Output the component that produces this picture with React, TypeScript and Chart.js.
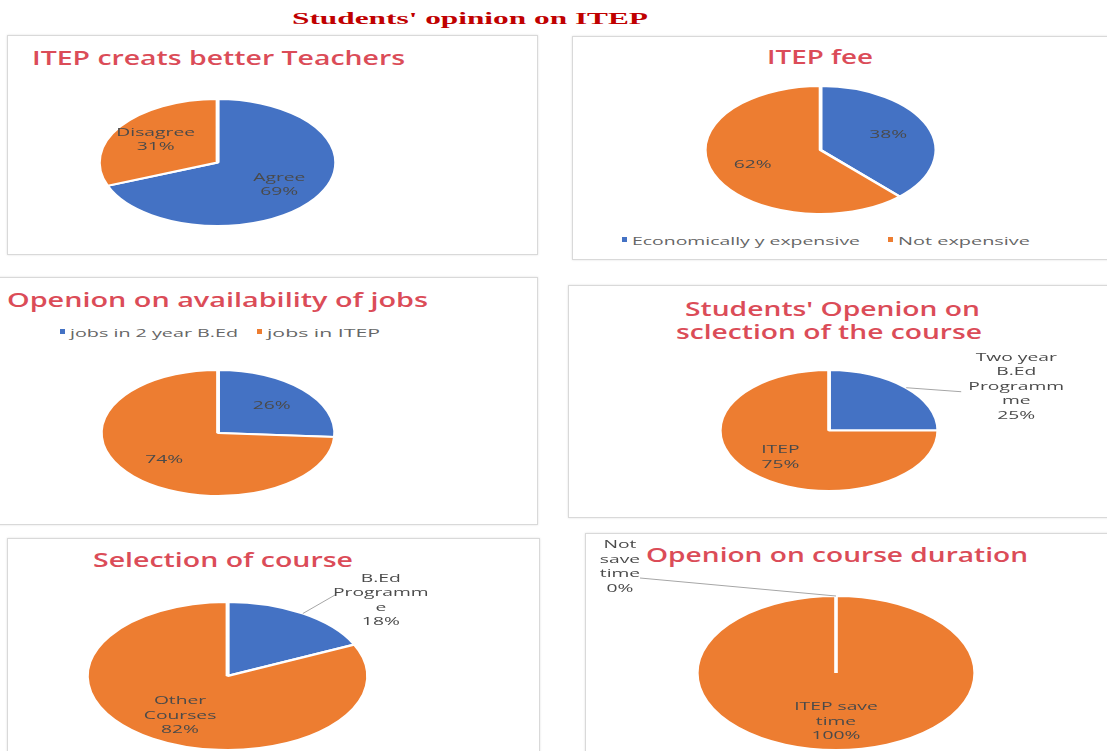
import React, { useEffect, useLayoutEffect, useRef } from "react";
import { Chart, registerables } from "chart.js";

Chart.register(...registerables);

// ---------------- data ----------------
const teacherCategories = ["Agree", "Disagree"];
const teacherValues = [69, 31];

const feeCategories = ["Economically y expensive", "Not expensive"];
const feeValues = [38, 62];

const jobCategories = ["jobs in 2 year B.Ed", "jobs in ITEP"];
const jobValues = [26, 74];

const choiceCategories = ["Two year B.Ed Programme", "ITEP"];
const choiceValues = [25, 75];

const courseCategories = ["B.Ed Programme", "Other Courses"];
const courseValues = [18, 82];

const durationCategories = ["Not save time", "ITEP save time"];
const durationValues = [0, 100];

// category text as wrapped inside the data labels
const teacherLabelLines = [["Agree"], ["Disagree"]];
const choiceLabelLines = [["Two year", "B.Ed", "Programm", "me"], ["ITEP"]];
const courseLabelLines = [["B.Ed", "Programm", "e"], ["Other", "Courses"]];
const durationLabelLines = [["Not", "save", "time"], ["ITEP save", "time"]];

const mainTitle = "Students' opinion on ITEP";
const teacherTitle = "ITEP creats better Teachers";
const feeTitle = "ITEP fee";
const jobTitle = "Openion on availability of jobs";
const choiceTitle = ["Students' Openion on", "sclection of the course"];
const courseTitle = "Selection of course";
const durationTitle = "Openion on course duration";

// ---------------- styles ----------------
const COLORS = ["#4472C4", "#ED7D31"];
const TITLE_COLOR = "#DB4C58";
const LABEL_COLOR = "#4a4a4a";
const CANVAS_W = 1107;
const CANVAS_H = 800;
const TEXT_SX = 1.75;

type Outside = { leader: number[]; text: number[] } | null;
type PieCfg = { sx: number; inset: number; lineHeight: number; lines?: string[][]; outside?: Outside[] };

function drawLines(ctx: CanvasRenderingContext2D, lines: string[], tx: number, ty: number, lh: number) {
  ctx.save();
  ctx.font = '11px "Open Sans"';
  ctx.fillStyle = LABEL_COLOR;
  ctx.textAlign = "center";
  ctx.textBaseline = "middle";
  const y0 = ty - ((lines.length - 1) * lh) / 2;
  lines.forEach((t, j) => {
    ctx.save();
    ctx.translate(tx, y0 + j * lh);
    ctx.scale(TEXT_SX, 1);
    ctx.fillText(t, 0, 0);
    ctx.restore();
  });
  ctx.restore();
}

function makeEllipsePlugin(cfg: PieCfg) {
  return {
    id: "ellipsePie",
    beforeDatasetsDraw(chart: any) {
      const arc = chart.getDatasetMeta(0).data[0];
      const ctx = chart.ctx;
      ctx.save();
      ctx.translate(arc.x, arc.y);
      ctx.scale(cfg.sx, 1);
      ctx.translate(-arc.x, -arc.y);
    },
    afterDatasetsDraw(chart: any) {
      const ctx = chart.ctx;
      ctx.restore();
      const meta = chart.getDatasetMeta(0);
      const values = chart.data.datasets[0].data as number[];
      const total = values.reduce((a, b) => a + b, 0);
      meta.data.forEach((el: any, i: number) => {
        const p = el.getProps(["x", "y", "startAngle", "endAngle", "outerRadius"], true);
        const mid = (p.startAngle + p.endAngle) / 2;
        const ux = Math.cos(mid) * p.outerRadius * cfg.sx;
        const uy = Math.sin(mid) * p.outerRadius;
        const pct = Math.round((values[i] / total) * 100) + "%";
        const lines = [...(cfg.lines ? cfg.lines[i] : []), pct];
        const out = cfg.outside ? cfg.outside[i] : null;
        let tx: number, ty: number;
        if (out) {
          const ex = p.x + ux;
          const ey = p.y + uy;
          ctx.save();
          ctx.strokeStyle = "#a6a6a6";
          ctx.lineWidth = 1;
          ctx.beginPath();
          ctx.moveTo(ex, ey);
          ctx.lineTo(ex + out.leader[0], ey + out.leader[1]);
          ctx.stroke();
          ctx.restore();
          tx = ex + out.text[0];
          ty = ey + out.text[1];
        } else {
          tx = p.x + ux * cfg.inset;
          ty = p.y + uy * cfg.inset;
        }
        drawLines(ctx, lines, tx, ty, cfg.lineHeight);
      });
    },
  };
}

type PieProps = {
  categories: string[];
  values: number[];
  cx: number;
  cy: number;
  rx: number;
  ry: number;
  lines?: string[][];
  outside?: Outside[];
};

function Pie({ categories, values, cx, cy, rx, ry, lines, outside }: PieProps) {
  const ref = useRef<HTMLCanvasElement>(null);
  useEffect(() => {
    if (!ref.current) return;
    const chart = new Chart(ref.current, {
      type: "pie",
      data: {
        labels: categories,
        datasets: [
          {
            data: values,
            backgroundColor: COLORS,
            borderColor: "#ffffff",
            borderWidth: 2,
            clip: false,
          } as any,
        ],
      },
      options: {
        responsive: false,
        animation: false,
        events: [],
        layout: {
          padding: {
            left: cx - rx,
            right: CANVAS_W - (cx + rx),
            top: cy - ry,
            bottom: CANVAS_H - (cy + ry),
          },
        },
        plugins: {
          legend: { display: false },
          tooltip: { enabled: false },
          title: { display: false },
        },
      },
      plugins: [makeEllipsePlugin({ sx: rx / ry, inset: 0.63, lineHeight: 14.5, lines, outside }) as any],
    });
    return () => chart.destroy();
  }, []);
  return (
    <canvas
      ref={ref}
      width={CANVAS_W}
      height={CANVAS_H}
      style={{ position: "absolute", left: 0, top: 0, pointerEvents: "none" }}
    />
  );
}

type TextProps = {
  text: string;
  x: number;
  y: number;
  w: number;
  size: number;
  color: string;
  weight?: number;
  family?: string;
};

function FitText({ text, x, y, w, size, color, weight = 400, family = '"Open Sans"' }: TextProps) {
  const ref = useRef<HTMLSpanElement>(null);
  useLayoutEffect(() => {
    const el = ref.current;
    if (!el) return;
    el.style.transform = "translateY(-50%)";
    const nat = el.getBoundingClientRect().width;
    const k = nat > 0 ? w / nat : 1;
    el.style.transform = `translateY(-50%) scaleX(${k})`;
  });
  return (
    <span
      ref={ref}
      style={{
        position: "absolute",
        left: x,
        top: y,
        whiteSpace: "nowrap",
        lineHeight: 1,
        fontFamily: family,
        fontSize: size,
        fontWeight: weight,
        color,
        transformOrigin: "left center",
      }}
    >
      {text}
    </span>
  );
}

function Panel({ x, y, w, h }: { x: number; y: number; w: number; h: number }) {
  return (
    <div
      style={{
        position: "absolute",
        left: x,
        top: y,
        width: w,
        height: h,
        border: "1px solid #d9d9d9",
        boxShadow: "0 0 2px rgba(0,0,0,0.12)",
        boxSizing: "border-box",
        background: "#ffffff",
      }}
    />
  );
}

function LegendItems({ categories, y, pos }: { categories: string[]; y: number; pos: { x: number; w: number }[] }) {
  return (
    <>
      {categories.map((c, i) => (
        <React.Fragment key={c}>
          <div
            style={{
              position: "absolute",
              left: pos[i].x - 10,
              top: y - 3,
              width: 5,
              height: 5,
              background: COLORS[i],
            }}
          />
          <FitText text={c} x={pos[i].x} y={y} w={pos[i].w} size={11} color="#666666" />
        </React.Fragment>
      ))}
    </>
  );
}

export default function App() {
  return (
    <div
      style={{
        position: "fixed",
        left: 0,
        top: 0,
        width: 1107,
        height: 751,
        overflow: "hidden",
        background: "#ffffff",
      }}
    >
      <Panel x={7} y={35} w={531} h={220} />
      <Panel x={572} y={36} w={540} h={224} />
      <Panel x={-2} y={277} w={540} h={248} />
      <Panel x={568} y={285} w={544} h={233} />
      <Panel x={7} y={538} w={533} h={260} />
      <Panel x={585} y={533} w={530} h={260} />

      <FitText text={mainTitle} x={292} y={19} w={356} size={16} weight={700} color="#C00000" family='"Liberation Serif", serif' />

      <FitText text={teacherTitle} x={32} y={58} w={373} size={19} weight={600} color={TITLE_COLOR} />
      <FitText text={feeTitle} x={767} y={57} w={106} size={19} weight={600} color={TITLE_COLOR} />
      <FitText text={jobTitle} x={7} y={300} w={421} size={19} weight={600} color={TITLE_COLOR} />
      <FitText text={choiceTitle[0]} x={685} y={309} w={295} size={19} weight={600} color={TITLE_COLOR} />
      <FitText text={choiceTitle[1]} x={676} y={332} w={306} size={19} weight={600} color={TITLE_COLOR} />
      <FitText text={courseTitle} x={93} y={560} w={260} size={19} weight={600} color={TITLE_COLOR} />
      <FitText text={durationTitle} x={646} y={555} w={382} size={19} weight={600} color={TITLE_COLOR} />

      <LegendItems categories={feeCategories} y={240} pos={[{ x: 632, w: 228 }, { x: 898, w: 132 }]} />
      <LegendItems categories={jobCategories} y={332} pos={[{ x: 70, w: 168 }, { x: 267, w: 113 }]} />

      <Pie categories={teacherCategories} values={teacherValues} cx={217.5} cy={162.5} rx={120.5} ry={64.5} lines={teacherLabelLines} />
      <Pie categories={feeCategories} values={feeValues} cx={820.5} cy={150} rx={117.5} ry={65} />
      <Pie categories={jobCategories} values={jobValues} cx={218} cy={433} rx={119} ry={64} />
      <Pie
        categories={choiceCategories}
        values={choiceValues}
        cx={829}
        cy={430.5}
        rx={111}
        ry={61.5}
        lines={choiceLabelLines}
        outside={[{ leader: [55, 4], text: [110, -1] }, null]}
      />
      <Pie
        categories={courseCategories}
        values={courseValues}
        cx={227.5}
        cy={676}
        rx={142.5}
        ry={75}
        lines={courseLabelLines}
        outside={[{ leader: [33, -19], text: [78, -13] }, null]}
      />
      <Pie
        categories={durationCategories}
        values={durationValues}
        cx={836}
        cy={673}
        rx={141}
        ry={78}
        lines={durationLabelLines}
        outside={[{ leader: [-196, -18], text: [-216, -29] }, null]}
      />
    </div>
  );
}
